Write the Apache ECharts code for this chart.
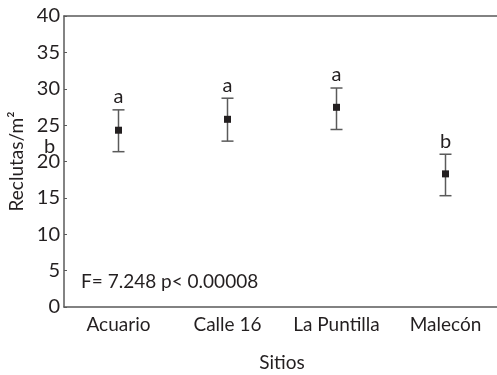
<!DOCTYPE html>
<html>
<head>
<meta charset="utf-8">
<script src="https://cdn.jsdelivr.net/npm/echarts@6/dist/echarts.min.js"></script>
<style>html,body{margin:0;padding:0;background:#fff}#c{width:497px;height:375px}</style>
</head>
<body>
<div id="c"></div>
<script>
var categories = ['Acuario', 'Calle 16', 'La Puntilla', 'Malecón'];
var means = [24.3, 25.8, 27.45, 18.3];
var upper = [27.1, 28.7, 30.1, 21.0];
var lower = [21.35, 22.8, 24.4, 15.3];
var letters = ['a', 'a', 'a', 'b'];
var yTicks = [0, 5, 10, 15, 20, 25, 30, 35, 40];
var statText = 'F= 7.248 p< 0.00008';

var FONT = 'Lato';
var FS = 19;
var AX = '#5a5a5a';
var TX = '#231f20';
var chart = echarts.init(document.getElementById('c'));
var data = categories.map(function (c, i) { return [i, means[i], lower[i], upper[i], letters[i]]; });
chart.setOption({
  animation: false,
  grid: { left: 64, right: -3, top: 16, bottom: 68, containLabel: false, outerBoundsMode: 'none' },
  xAxis: [{
    type: 'category', data: categories, boundaryGap: true,
    name: 'Sitios', nameLocation: 'middle', nameGap: 46,
    nameTextStyle: { fontFamily: FONT, fontSize: FS, color: TX },
    axisLine: { lineStyle: { color: AX, width: 1.5 } },
    axisTick: { inside: true, alignWithLabel: true, length: 3, lineStyle: { color: AX } },
    axisLabel: { fontFamily: FONT, fontSize: FS, color: TX, margin: 8, interval: 0, hideOverlap: false }
  }, {
    type: 'category', data: categories, position: 'top',
    axisLine: { show: true, lineStyle: { color: AX, width: 1.5 } },
    axisTick: { show: false }, axisLabel: { show: false }
  }],
  yAxis: {
    type: 'value', min: yTicks[0], max: yTicks[yTicks.length - 1], interval: 5,
    name: 'Reclutas/m²', nameLocation: 'middle', nameGap: 37,
    nameTextStyle: { fontFamily: FONT, fontSize: FS, color: TX },
    axisLine: { show: true, lineStyle: { color: AX, width: 1.5 } },
    axisTick: { show: true, inside: true, length: 3, lineStyle: { color: AX } },
    axisLabel: { fontFamily: FONT, fontSize: 20, color: TX, margin: 4 },
    splitLine: { show: false }
  },
  graphic: [
    { type: 'text', left: 81, top: 272, style: { text: statText, fontFamily: FONT, fontSize: FS, fill: TX } },
    { type: 'text', left: 44, top: 137, style: { text: 'b', fontFamily: FONT, fontSize: 20, fill: TX } }
  ],
  series: [{
    type: 'custom',
    data: data,
    renderItem: function (params, api) {
      var x = api.coord([api.value(0), 0])[0];
      var pm = api.coord([api.value(0), api.value(1)]);
      var plo = api.coord([api.value(0), api.value(2)]);
      var phi = api.coord([api.value(0), api.value(3)]);
      var cap = 6;
      var ls = { stroke: AX, lineWidth: 1.5 };
      return {
        type: 'group',
        children: [
          { type: 'line', shape: { x1: x, y1: phi[1], x2: x, y2: plo[1] }, style: ls },
          { type: 'line', shape: { x1: x - cap, y1: phi[1], x2: x + cap, y2: phi[1] }, style: ls },
          { type: 'line', shape: { x1: x - cap, y1: plo[1], x2: x + cap, y2: plo[1] }, style: ls },
          { type: 'rect', shape: { x: x - 3.5, y: pm[1] - 3.5, width: 7, height: 7 }, style: { fill: TX } },
          { type: 'text', x: x, y: phi[1] - 3, style: { text: api.value(4), fontFamily: FONT, fontSize: 20, fill: TX, align: 'center', verticalAlign: 'bottom' } }
        ]
      };
    }
  }]
});
</script>
</body>
</html>
